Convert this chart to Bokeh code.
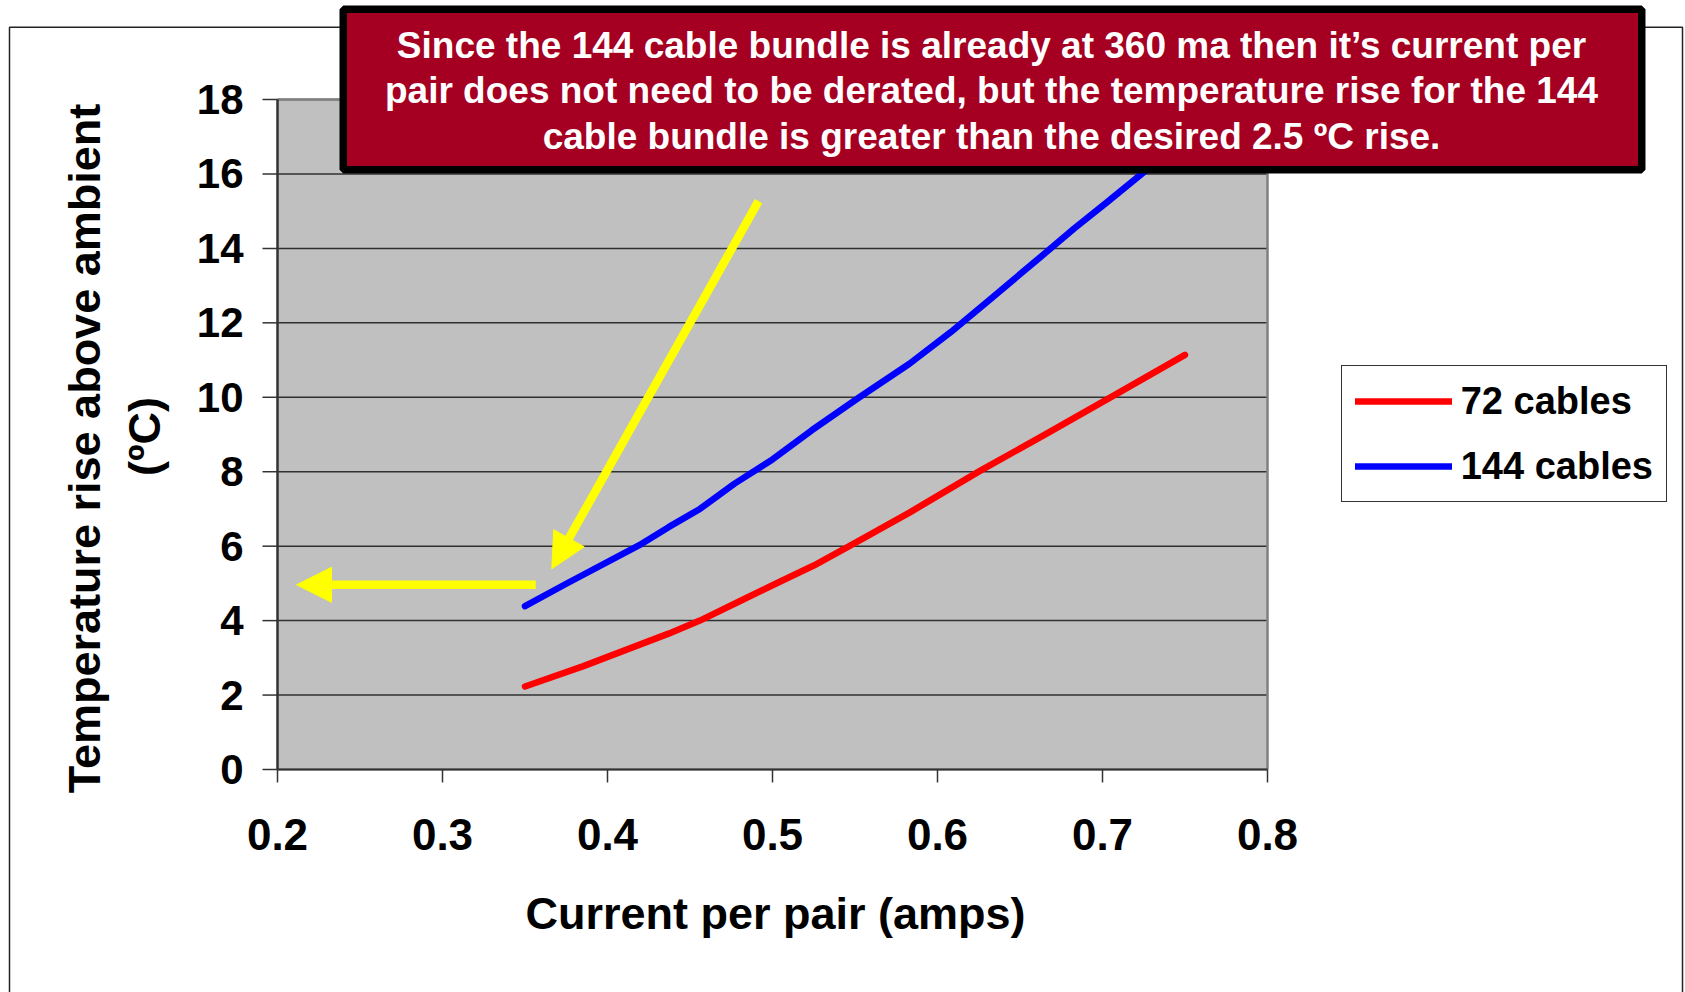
import math
from bokeh.plotting import figure
from bokeh.core.properties import value
from bokeh.models import (Range1d, Label, BoxAnnotation, Arrow, NormalHead,
                          Legend, LegendItem)
from bokeh.embed import file_html
from bokeh.resources import INLINE

# ---------------- data ----------------
current_72 = [0.350, 0.385, 0.437, 0.456, 0.481, 0.500, 0.525, 0.549, 0.583,
              0.626, 0.664, 0.707, 0.750]
temp_72 = [2.23, 2.77, 3.65, 4.00, 4.54, 4.95, 5.48, 6.06, 6.90,
           8.03, 8.97, 10.05, 11.14]

current_144 = [0.350, 0.375, 0.419, 0.437, 0.456, 0.477, 0.500, 0.524, 0.552,
               0.583, 0.608, 0.630, 0.663, 0.683, 0.703, 0.750]
temp_144 = [4.39, 4.99, 6.02, 6.51, 7.00, 7.68, 8.33, 9.12, 9.98,
            10.90, 11.75, 12.56, 13.79, 14.54, 15.25, 16.95]

series_names = ["72 cables", "144 cables"]
series_colors = ["#FF0000", "#0000FF"]
x_ticks = [0.2, 0.3, 0.4, 0.5, 0.6, 0.7, 0.8]
x_tick_labels = ["0.2", "0.3", "0.4", "0.5", "0.6", "0.7", "0.8"]
y_ticks = [0, 2, 4, 6, 8, 10, 12, 14, 16, 18]
y_tick_labels = ["0", "2", "4", "6", "8", "10", "12", "14", "16", "18"]
x_title = "Current per pair (amps)"
y_title_lines = ["Temperature rise above ambient", "(ºC)"]
note_lines = [
    "Since the 144 cable bundle is already at 360 ma then it\u2019s current per",
    "pair does not need to be derated, but the temperature rise for the 144",
    "cable bundle is greater than the desired 2.5 ºC rise.",
]

FONT = "Liberation Sans"

# ---------------- layout (canvas pixels -> data coords) ----------------
W, H = 1685, 992
X_MIN, X_MAX, Y_MIN, Y_MAX = 0.2, 0.8, 0.0, 18.0
PL, PR, PT, PB = 277.0, 1267.0, 99.0, 769.0       # plot-area edges in pixels
XPU = (PR - PL) / (X_MAX - X_MIN)
YPU = (PB - PT) / (Y_MAX - Y_MIN)


def dx(px):
    return X_MIN + (px - PL) / XPU


def dy(py):
    return Y_MIN + (PB - py) / YPU


p = figure(width=W, height=H,
           x_range=Range1d(dx(0), dx(W)), y_range=Range1d(dy(H), dy(0)),
           x_axis_location=None, y_axis_location=None,
           output_backend="svg", toolbar_location=None,
           min_border=0)
p.min_border_left = p.min_border_right = p.min_border_top = p.min_border_bottom = 0
p.background_fill_color = "white"
p.border_fill_color = "white"
p.outline_line_color = None
p.grid.visible = False

# outer chart border
p.add_layout(BoxAnnotation(left=dx(9), right=dx(1682), top=dy(26.7), bottom=dy(1300),
                           fill_alpha=0, line_color="#222222", line_alpha=1, line_width=1.5))

# plot area
p.quad(left=[X_MIN], right=[X_MAX], bottom=[Y_MIN], top=[Y_MAX],
       fill_color="#C0C0C0", line_color=None)
# horizontal gridlines
p.segment(x0=[X_MIN] * len(y_ticks), x1=[X_MAX] * len(y_ticks), y0=y_ticks, y1=y_ticks,
          line_color="#303030", line_width=1.5)
# plot-area border (top / right grey)
p.line([X_MIN, X_MAX, X_MAX], [Y_MAX, Y_MAX, Y_MIN], line_color="#808080", line_width=2.5)
# axis lines
p.line([X_MIN, X_MIN], [Y_MIN, Y_MAX], line_color="#333333", line_width=2.5)
p.line([X_MIN, X_MAX], [Y_MIN, Y_MIN], line_color="#333333", line_width=2)

# tick marks
p.segment(x0=[dx(PL - 15)] * len(y_ticks), x1=[X_MIN] * len(y_ticks), y0=y_ticks, y1=y_ticks,
          line_color="#333333", line_width=1.5)
p.segment(x0=x_ticks, x1=x_ticks, y0=[Y_MIN] * len(x_ticks), y1=[dy(PB + 13)] * len(x_ticks),
          line_color="#333333", line_width=1.5)

# tick labels
p.text(x=[dx(243)] * len(y_ticks), y=y_ticks, text=y_tick_labels,
       text_font=value(FONT), text_font_style="bold", text_font_size="42px",
       text_align="right", text_baseline="middle", text_color="black")
p.text(x=x_ticks, y=[dy(834)] * len(x_ticks), text=x_tick_labels,
       text_font=value(FONT), text_font_style="bold", text_font_size="44px",
       text_align="center", text_baseline="alphabetic", text_color="black")

# series
r72 = p.line(current_72, temp_72, line_color=series_colors[0], line_width=6.5,
             line_cap="round", line_join="round")
r144 = p.line(current_144, temp_144, line_color=series_colors[1], line_width=6.5,
              line_cap="round", line_join="round")

# yellow arrows
for (x0, y0, x1, y1) in [(758, 200.7, 551.3, 568.3), (535.2, 584.3, 296, 584.3)]:
    p.add_layout(Arrow(x_start=dx(x0), y_start=dy(y0), x_end=dx(x1), y_end=dy(y1),
                       line_color="#FFFF00", line_width=8.5,
                       end=NormalHead(size=35, fill_color="#FFFF00",
                                      line_color="#FFFF00", line_width=1)))

# legend
legend = Legend(items=[LegendItem(label=series_names[0], renderers=[r72]),
                       LegendItem(label=series_names[1], renderers=[r144])],
                location=(1340.7, H - 502))
legend.label_text_font = FONT
legend.label_text_font_style = "bold"
legend.label_text_font_size = "38px"
legend.label_text_color = "black"
legend.glyph_width = 97
legend.glyph_height = 44
legend.label_height = 44
legend.label_standoff = 9
legend.spacing = 21
legend.padding = 13
legend.margin = 0
legend.border_line_color = "#333333"
legend.border_line_alpha = 1
legend.border_line_width = 1.2
legend.background_fill_color = "white"
legend.background_fill_alpha = 1
p.add_layout(legend)

# axis titles
p.add_layout(Label(x=dx(775), y=dy(913), text=x_title, text_align="center",
                   text_baseline="alphabetic", text_font=FONT, text_font_style="bold",
                   text_font_size="45px", text_color="black"))
for (cx, cy, txt) in [(84, 448, y_title_lines[0]), (144, 436, y_title_lines[1])]:
    p.add_layout(Label(x=dx(cx), y=dy(cy), text=txt, angle=math.pi / 2,
                       text_align="center", text_baseline="middle", text_font=FONT,
                       text_font_style="bold", text_font_size="45px", text_color="black"))

# note box
p.add_layout(BoxAnnotation(left=dx(342.75), right=dx(1641.25), top=dy(8.75), bottom=dy(169.25),
                           fill_color="#A50021", fill_alpha=1, line_color="black",
                           line_alpha=1, line_width=7.5, level="overlay"))
for txt, base in zip(note_lines, [45, 90, 136]):
    p.add_layout(Label(x=dx(991), y=dy(base), text=txt, text_align="center",
                       text_baseline="alphabetic", text_font=FONT, text_font_style="bold",
                       text_font_size="37px", text_color="white", level="overlay"))

open("out.html", "w").write(file_html(p, INLINE))
